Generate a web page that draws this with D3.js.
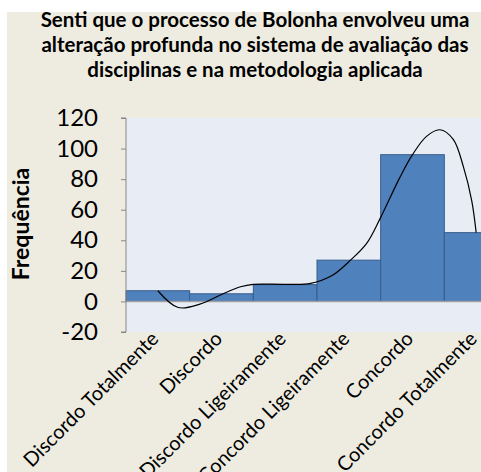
<!DOCTYPE html>
<html><head><meta charset="utf-8">
<script src="https://cdn.jsdelivr.net/npm/d3@7"></script>
<style>html,body{margin:0;padding:0;background:#fff;}svg{display:block;}</style>
</head><body>
<svg id="c" width="481" height="472"></svg>
<script>
// Data
const categories = ["Discordo Totalmente","Discordo","Discordo Ligeiramente","Concordo Ligeiramente","Concordo","Concordo Totalmente"];
const frequencies = [7, 5, 11, 27, 96, 45];
// smoothed trend line: position in category units (0 = first category centre) and value
const curvePos = [0, 0.32, 0.66, 1.0, 1.3, 1.5, 2.0, 2.4, 2.75, 3.0, 3.28, 3.5, 3.8, 4.0, 4.22, 4.43, 4.64, 4.8, 4.93, 5.0];
const curveVal = [7, -4, -1.8, 4.5, 9.6, 11.2, 11.2, 11.8, 17.3, 26, 38, 55, 81, 96, 108, 112.3, 106, 88, 66, 45];
const yTicks = [-20, 0, 20, 40, 60, 80, 100, 120];
const titleLines = ["Senti que o processo de Bolonha envolveu uma","alteração profunda no sistema de avaliação das","disciplinas e na metodologia aplicada"];
const yTitle = "Frequência";

const svg = d3.select("#c");
const W = 481, H = 472;
const plot = {left:126, right:508, top:118, bottom:332};

// chart background
svg.append("rect").attr("x",7).attr("y",12).attr("width",W-7).attr("height",H-12).attr("fill","#EEECE1");

const x = d3.scaleBand().domain(categories).range([plot.left, plot.right]).padding(0);
const y = d3.scaleLinear().domain([-20,120]).range([plot.bottom, plot.top]);
const xc = d3.scaleLinear().domain([0, categories.length-1])
  .range([x(categories[0]) + x.bandwidth()/2, x(categories[categories.length-1]) + x.bandwidth()/2]);

// plot area
svg.append("rect").attr("x",plot.left).attr("y",plot.top).attr("width",plot.right-plot.left).attr("height",plot.bottom-plot.top).attr("fill","#E8ECF5");

// bars
svg.append("g").selectAll("rect").data(frequencies).join("rect")
  .attr("x",(d,i)=>x(categories[i]))
  .attr("y",d=>y(Math.max(0,d)))
  .attr("width",x.bandwidth())
  .attr("height",d=>Math.abs(y(d)-y(0)))
  .attr("fill","#4F81BD").attr("stroke","#385D8A").attr("stroke-width",1);

// zero line
svg.append("line").attr("x1",plot.left).attr("x2",plot.right).attr("y1",y(0)).attr("y2",y(0)).attr("stroke","#A0A0A0").attr("stroke-width",1.5);

// curve
const pts = curvePos.map((p,i)=>[xc(p), y(curveVal[i])]);
svg.append("path").attr("d", d3.line().curve(d3.curveCatmullRom.alpha(0.5))(pts))
  .attr("fill","none").attr("stroke","#000").attr("stroke-width",1.2);

// y axis
const yAxis = d3.axisLeft(y).tickValues(yTicks).tickSize(5).tickPadding(23).tickFormat(d=>String(d));
const ga = svg.append("g").attr("transform",`translate(${plot.left},0)`).call(yAxis);
ga.select(".domain").attr("stroke","#868686").attr("d",`M-5,${plot.top}H0V${plot.bottom}H-5`);
ga.selectAll(".tick line").attr("stroke","#868686");
ga.selectAll(".tick text").attr("font-family","Lato, 'Open Sans', sans-serif").attr("font-size",24).attr("fill","#000");

// x labels
svg.append("g").selectAll("text").data(categories).join("text")
  .attr("transform",d=>`translate(${x(d)+x.bandwidth()/2+2},${plot.bottom+8}) rotate(-45)`)
  .attr("text-anchor","end")
  .attr("font-family","Lato, 'Open Sans', sans-serif").attr("font-size",20).attr("fill","#000")
  .text(d=>d);

// y title
svg.append("text").attr("transform","translate(29,224) rotate(-90)").attr("text-anchor","middle")
  .attr("font-family","Lato, 'Open Sans', sans-serif").attr("font-weight","bold").attr("font-size",23).attr("fill","#000")
  .text(yTitle);

// title
svg.append("g").selectAll("text").data(titleLines).join("text")
  .attr("x",255).attr("y",(d,i)=>26.7+i*25.3).attr("text-anchor","middle")
  .attr("font-family","Lato, 'Open Sans', sans-serif").attr("font-weight","bold").attr("font-size",20.5).attr("fill","#000")
  .text(d=>d);
</script>
</body></html>
